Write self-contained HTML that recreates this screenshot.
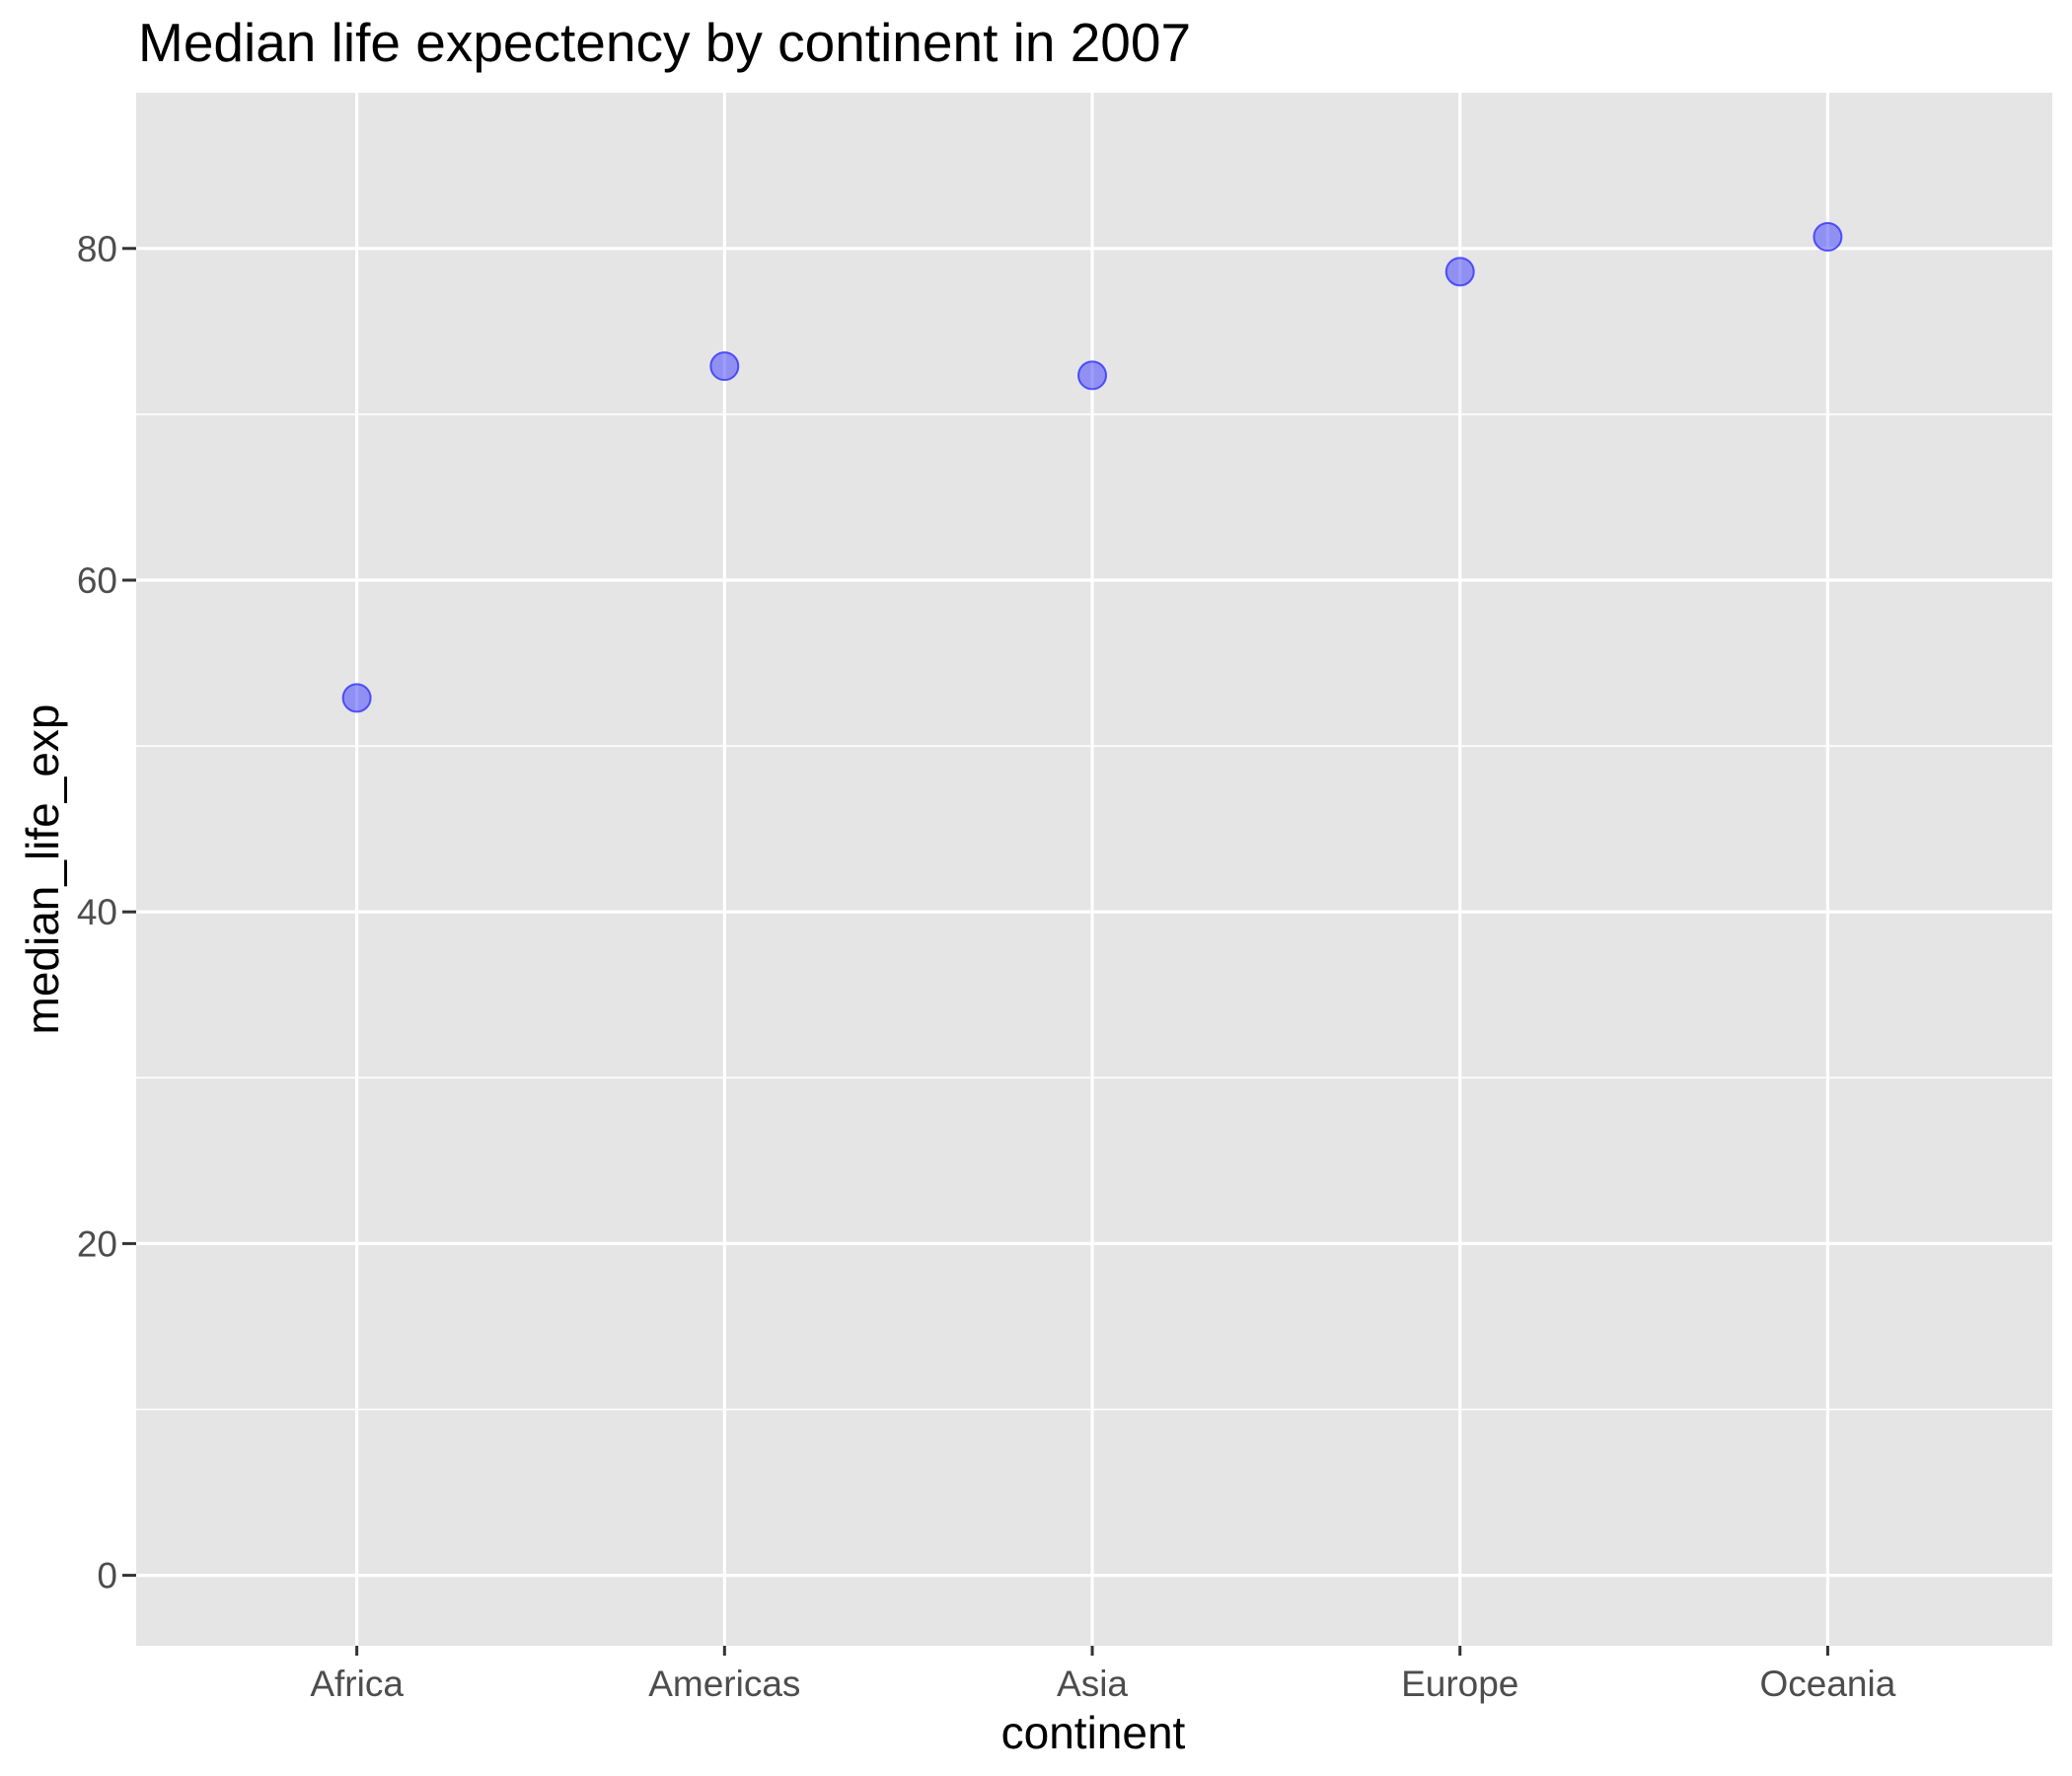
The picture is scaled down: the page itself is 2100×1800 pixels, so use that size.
<!DOCTYPE html>
<html><head><meta charset="utf-8"><style>
html,body{margin:0;padding:0;background:#fff;}
svg{display:block;font-family:"Liberation Sans",Arial,sans-serif;}
</style></head><body>
<svg id="chart" width="2100" height="1800" viewBox="0 0 2100 1800">
<text x="140" y="62" font-size="55" fill="#000">Median life expectency by continent in 2007</text>
<rect x="138" y="94" width="1942" height="1574" fill="#e5e5e5"/>
<g id="grid"></g>
<g id="axes"></g>
<g id="points"></g>
<text x="1108" y="1772" font-size="46" text-anchor="middle" fill="#000">continent</text>
<text transform="translate(59,881) rotate(-90)" font-size="46" text-anchor="middle" fill="#000">median_life_exp</text>
</svg>
<script>
const categories = ["Africa","Americas","Asia","Europe","Oceania"];
const values = [52.9, 72.9, 72.35, 78.6, 80.7];
const yTicks = [0,20,40,60,80];
const yMinor = [10,30,50,70];
const NS="http://www.w3.org/2000/svg";
const L=138,R=2080,T=94,B=1668;
const step=372.7;
function xs(i){return L+step*(0.6+i);}
function ys(v){return 1596.6-(1596.6-251.8)*v/80;}
function mk(tag,attrs,parent){const e=document.createElementNS(NS,tag);for(const k in attrs)e.setAttribute(k,attrs[k]);parent.appendChild(e);return e;}
const grid=document.getElementById('grid'),axes=document.getElementById('axes'),pts=document.getElementById('points');
yMinor.forEach(v=>{const l=mk('line',{x1:L,x2:R,y1:ys(v),y2:ys(v),stroke:'#fff','stroke-width':1.6},grid);

});
yTicks.forEach(v=>{const l=mk('line',{x1:L,x2:R,y1:ys(v),y2:ys(v),stroke:'#fff','stroke-width':3.2},grid);


const t=mk('line',{x1:124,x2:138,y1:ys(v),y2:ys(v),stroke:'#333','stroke-width':3},axes);


const tx=mk('text',{x:119,y:ys(v)+13,'font-size':37,'text-anchor':'end',fill:'#4d4d4d'},axes);tx.textContent=v;

});
categories.forEach((c,i)=>{const x=xs(i);
const l=mk('line',{x1:x,x2:x,y1:T,y2:B,stroke:'#fff','stroke-width':3.2},grid);


const t=mk('line',{x1:x,x2:x,y1:B,y2:B+10,stroke:'#333','stroke-width':3},axes);


const tx=mk('text',{x:x,y:1719,'font-size':37,'text-anchor':'middle',fill:'#4d4d4d'},axes);tx.textContent=c;


const p=mk('circle',{cx:x,cy:ys(values[i]),r:14,fill:'rgba(60,60,255,0.5)',stroke:'rgba(40,40,255,0.75)','stroke-width':2},pts);

});
</script>
</body></html>
